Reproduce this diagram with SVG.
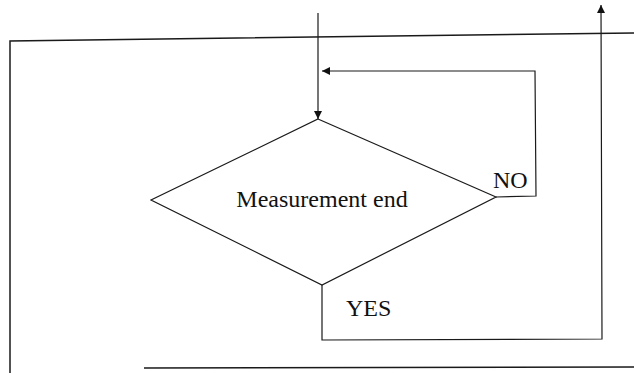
<svg xmlns="http://www.w3.org/2000/svg" width="634" height="373" viewBox="0 0 634 373">
  <style>
    .ln { fill: none; stroke: #1a1a1a; stroke-width: 1.2; }
    .frame { fill: none; stroke: #1a1a1a; stroke-width: 1.5; }
    .shape { fill: #ffffff; stroke: #1a1a1a; stroke-width: 1.2; }
    .txt { font-family: "Liberation Serif", "Times New Roman", serif; font-size: 24px; fill: #111111; }
  </style>
  <defs>
    <marker id="arr" viewBox="0 0 10 10" refX="10" refY="5" markerWidth="8" markerHeight="8" markerUnits="userSpaceOnUse" orient="auto">
      <path d="M0,0 L10,5 L0,10 Z" fill="#111111"/>
    </marker>
  </defs>
  <rect width="634" height="373" fill="#ffffff"/>
  <g id="frame">
    <path class="frame" d="M634,33 L10,41 L10,373"/>
    <path class="frame" d="M144,368 L634,367"/>
  </g>
  <g id="connectors">
    <path class="ln" d="M318,13 L318,119" marker-end="url(#arr)"/>
    <path class="ln" d="M496,197 L536,196 L535,71 L322,71" marker-end="url(#arr)"/>
    <path class="ln" d="M322,285 L322,340 L602,339 L601,5" marker-end="url(#arr)"/>
  </g>
  <g id="decision">
    <polygon class="shape" points="318,119 496,197 322,285 151,200"/>
    <text class="txt" x="322" y="207" text-anchor="middle">Measurement end</text>
  </g>
  <g id="labels">
    <text class="txt" x="493" y="188">NO</text>
    <text class="txt" x="346" y="316">YES</text>
  </g>
</svg>
